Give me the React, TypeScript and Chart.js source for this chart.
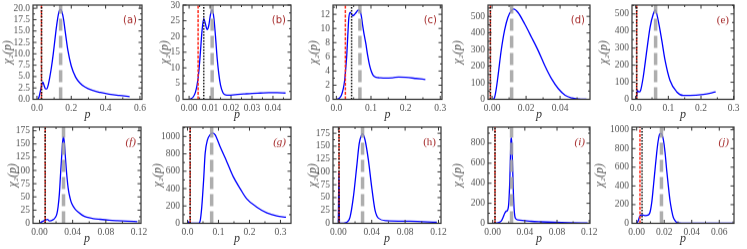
import React, { useEffect, useRef } from "react";
import { Chart, registerables } from "chart.js";
Chart.register(...registerables);

// ---------- data ----------
const pA = [0.004, 0.012, 0.02, 0.028, 0.035, 0.042, 0.05, 0.058, 0.066, 0.075, 0.085, 0.095, 0.105, 0.115, 0.125, 0.132, 0.138, 0.145, 0.155, 0.165, 0.18, 0.2, 0.225, 0.25, 0.28, 0.32, 0.37, 0.42, 0.48, 0.54];
const chiA = [0.0, 0.5, 1.8, 3.2, 3.8, 3.0, 2.3, 2.3, 3.2, 4.9, 7.2, 10.0, 13.2, 16.3, 18.7, 19.6, 19.8, 19.3, 17.6, 14.8, 10.8, 7.3, 4.9, 3.6, 2.7, 2.0, 1.5, 1.15, 0.85, 0.6];

const pB = [0.0, 0.001, 0.002, 0.003, 0.0038, 0.0046, 0.0054, 0.0062, 0.007, 0.0078, 0.0086, 0.0094, 0.0102, 0.011, 0.0118, 0.0126, 0.0134, 0.0142, 0.015, 0.016, 0.017, 0.018, 0.019, 0.022, 0.026, 0.03, 0.034, 0.038, 0.042, 0.046];
const chiB = [0.0, 0.2, 0.8, 2.2, 4.5, 8.5, 15.0, 22.0, 25.7, 24.0, 22.2, 23.5, 27.0, 28.5, 26.0, 20.0, 13.0, 8.0, 4.5, 2.3, 1.5, 1.3, 1.3, 1.5, 1.7, 1.9, 2.0, 2.1, 2.1, 2.0];

const pC = [0.002, 0.008, 0.0145, 0.02, 0.024, 0.027, 0.03, 0.033, 0.036, 0.04, 0.044, 0.048, 0.053, 0.058, 0.063, 0.068, 0.072, 0.076, 0.08, 0.085, 0.09, 0.095, 0.1, 0.106, 0.115, 0.124, 0.14, 0.163, 0.18, 0.2, 0.23, 0.257];
const chiC = [0.0, 0.15, 0.56, 1.5, 2.7, 4.3, 6.2, 9.0, 11.5, 12.3, 12.0, 11.8, 12.0, 12.3, 12.6, 12.5, 11.8, 10.4, 9.2, 7.9, 6.3, 5.0, 4.1, 3.4, 3.1, 3.05, 3.0, 3.05, 3.15, 3.1, 2.95, 2.8];

const pD = [0.0, 0.0012, 0.0024, 0.0036, 0.0053, 0.0073, 0.0093, 0.0113, 0.0127, 0.0152, 0.0192, 0.0232, 0.0271, 0.031, 0.035, 0.039, 0.043, 0.047, 0.051, 0.0555];
const chiD = [0, 5, 60, 150, 290, 414, 494, 534, 544, 524, 454, 374, 294, 204, 124, 64, 24, 8, 2, 0];

const pE = [0.0, 0.003, 0.005, 0.0075, 0.0102, 0.015, 0.023, 0.034, 0.044, 0.054, 0.06, 0.069, 0.08, 0.09, 0.105, 0.126, 0.146, 0.166, 0.207, 0.245];
const chiE = [0, 20, 52, 48, 43, 52, 130, 286, 422, 500, 523, 461, 344, 228, 111, 43, 23, 23, 29, 43];

const pF = [0.0, 0.003, 0.0069, 0.0097, 0.012, 0.016, 0.019, 0.021, 0.0225, 0.024, 0.0255, 0.027, 0.028, 0.029, 0.03, 0.0315, 0.033, 0.035, 0.037, 0.039, 0.043, 0.047, 0.052, 0.057, 0.065, 0.073, 0.084, 0.094, 0.106, 0.118];
const chiF = [0, 3, 6, 7.5, 4.5, 6.4, 11, 18, 32, 56, 95, 132, 155, 164, 152, 120, 90, 62, 47, 37, 27, 21, 15, 11.5, 9, 7.6, 6, 5, 4, 3.2];

const pG = [0.0, 0.004, 0.008, 0.035, 0.041, 0.046, 0.052, 0.057, 0.0645, 0.073, 0.08, 0.089, 0.105, 0.127, 0.148, 0.17, 0.191, 0.224, 0.256, 0.288, 0.318];
const chiG = [0, 20, 0, 0, 31, 186, 496, 806, 961, 1019, 1039, 1019, 884, 709, 535, 399, 283, 186, 120, 85, 70];

const pH = [0.0, 0.0007, 0.0014, 0.01, 0.014, 0.018, 0.022, 0.025, 0.028, 0.029, 0.032, 0.036, 0.04, 0.044, 0.048, 0.058, 0.086, 0.118];
const chiH = [0, 100, 0, 2, 12, 51, 110, 155, 172, 174, 162, 123, 70, 25, 10, 5, 4, 2];

const pI = [0.0, 0.007, 0.011, 0.013, 0.015, 0.017, 0.0185, 0.02, 0.0213, 0.0222, 0.0228, 0.0234, 0.024, 0.0248, 0.0258, 0.0268, 0.0283, 0.0316, 0.04, 0.048, 0.06, 0.0767, 0.095, 0.118];
const chiI = [0, 7, 27, 60, 100, 122, 130, 200, 430, 700, 840, 855, 760, 560, 300, 130, 50, 34, 27, 20, 15, 10, 6, 3];

const pJ = [0.0, 0.0012, 0.0024, 0.0036, 0.006, 0.0085, 0.0097, 0.011, 0.0121, 0.0133, 0.0145, 0.0155, 0.0165, 0.0177, 0.0186, 0.0194, 0.0206, 0.0218, 0.023, 0.0242, 0.0254, 0.0266, 0.0278, 0.029, 0.031, 0.034, 0.05, 0.07];
const chiJ = [0, 29, 83, 90, 83, 90, 119, 230, 388, 570, 748, 870, 946, 964, 940, 892, 760, 568, 400, 245, 140, 65, 30, 11, 3, 0, 0, 0];

const panelLabels = ["(a)", "(b)", "(c)", "(d)", "(e)", "(f)", "(g)", "(h)", "(i)", "(j)"];
const seriesP = [pA, pB, pC, pD, pE, pF, pG, pH, pI, pJ];
const seriesChi = [chiA, chiB, chiC, chiD, chiE, chiF, chiG, chiH, chiI, chiJ];

const redLines = [0.026, 0.0043, 0.026, -0.001, 0.003, 0.0069, 0.0086, 0.0008, 0.0029, 0.0024];
const blackLines = [0.027, 0.007, 0.044, -0.001, 0.003, 0.0069, 0.0086, 0.0008, 0.0029, 0.0039];
const grayLines = [0.138, 0.011, 0.068, 0.0115, 0.061, 0.029, 0.078, 0.029, 0.0235, 0.018];

const xLimits = [[-0.023, 0.612], [-0.0029, 0.0486], [-0.0097, 0.305], [-0.0024, 0.0576], [-0.0113, 0.301], [-0.0078, 0.1224], [-0.0145, 0.334], [-0.0064, 0.123], [-0.0058, 0.121], [-0.0034, 0.0707]];
const yLimits = [[0, 20.7], [0, 30], [0, 13.3], [0, 568], [0, 552], [0, 182], [0, 1108], [0, 187], [0, 961], [0, 1029]];

const xTickVals = [
  [0, 0.2, 0.4, 0.6], [0, 0.01, 0.02, 0.03, 0.04], [0, 0.1, 0.2, 0.3], [0, 0.02, 0.04], [0, 0.1, 0.2, 0.3],
  [0, 0.04, 0.08, 0.12], [0, 0.1, 0.2, 0.3], [0, 0.04, 0.08, 0.12], [0, 0.04, 0.08, 0.12], [0, 0.02, 0.04, 0.06],
];
const yTickVals = [
  [0, 2.5, 5, 7.5, 10, 12.5, 15, 17.5, 20], [0, 5, 10, 15, 20, 25, 30], [0, 2, 4, 6, 8, 10, 12], [0, 100, 200, 300, 400, 500], [0, 100, 200, 300, 400, 500],
  [0, 25, 50, 75, 100, 125, 150, 175], [0, 200, 400, 600, 800, 1000], [0, 25, 50, 75, 100, 125, 150, 175], [0, 200, 400, 600, 800], [0, 200, 400, 600, 800, 1000],
];
const xDecimals = [1, 2, 1, 2, 1, 2, 1, 2, 2, 2];
const yDecimals = [1, 0, 0, 0, 0, 0, 0, 0, 0, 0];

// ---------- layout (plot rectangles in page pixels) ----------
const plotRects = [
  [33, 5, 142, 99], [183, 5, 291, 99], [333, 5, 442, 99], [488, 5, 590, 99], [632, 5, 734, 99],
  [33, 127, 141, 223], [183, 127, 291, 223], [333, 127, 441, 223], [488, 127, 590, 223], [632, 127, 734, 223],
];
const yAxisWidths = [32, 25, 26, 37, 35, 27, 32, 27, 37, 39];
const labelFonts = [
  "10px 'DejaVu Sans'", "10px 'DejaVu Sans'", "10px 'DejaVu Sans'", "10px 'DejaVu Sans'", "11px 'Liberation Serif'",
  "italic 11px 'Liberation Serif'", "italic 11px 'Liberation Serif'", "11px 'Liberation Serif'", "italic 11px 'Liberation Serif'", "italic 11px 'Liberation Serif'",
];
const PAD_T = 5;
const PAD_R = 14;
const X_AXIS_H = 22.5;
const SERIF = "'Liberation Serif', 'DejaVu Serif', serif";

function makeDecor(xt: number[], yt: number[], label: string, labelFont: string) {
  return {
    id: "decor",
    afterDatasetsDraw(chart: any) {
      const { ctx, chartArea } = chart;
      const { left, top, right, bottom } = chartArea;
      const xs = chart.scales.x;
      const ys = chart.scales.y;
      ctx.save();
      ctx.strokeStyle = "#333";
      ctx.lineWidth = 1;
      const seg = (x1: number, y1: number, x2: number, y2: number) => {
        ctx.beginPath();
        ctx.moveTo(x1, y1);
        ctx.lineTo(x2, y2);
        ctx.stroke();
      };
      const all = (t: number[], min: number, max: number) => {
        const s = t[1] - t[0];
        const out: [number, boolean][] = [];
        for (let k = -3; k < t.length + 3; k++) {
          const vMaj = t[0] + k * s;
          const vMin = t[0] + (k + 0.5) * s;
          if (vMaj >= min - 1e-12 && vMaj <= max + 1e-12) out.push([vMaj, true]);
          if (vMin >= min && vMin <= max) out.push([vMin, false]);
        }
        return out;
      };
      for (const [v, major] of all(xt, xs.min, xs.max)) {
        const px = xs.getPixelForValue(v);
        const len = major ? 3.5 : 2;
        seg(px, bottom, px, bottom - len);
        seg(px, top, px, top + len);
      }
      for (const [v, major] of all(yt, ys.min, ys.max)) {
        const py = ys.getPixelForValue(v);
        const len = major ? 3.5 : 2;
        seg(left, py, left + len, py);
        seg(right, py, right - len, py);
      }
      ctx.lineWidth = 1.2;
      ctx.strokeRect(left, top, right - left, bottom - top);
      ctx.fillStyle = "#a52a2a";
      ctx.font = labelFont;
      ctx.textAlign = "right";
      ctx.textBaseline = "middle";
      ctx.fillText(label, right - 5, top + 15);
      ctx.restore();
    },
  };
}

function Panel({ i }: { i: number }) {
  const ref = useRef<HTMLCanvasElement>(null);
  const [L, T, R, B] = plotRects[i];
  const yw = yAxisWidths[i];
  const w = R - L + yw + PAD_R;
  const h = B - T + PAD_T + X_AXIS_H;
  useEffect(() => {
    const [xmin, xmax] = xLimits[i];
    const [ymin, ymax] = yLimits[i];
    const curve = seriesP[i].map((p, k) => ({ x: p, y: seriesChi[i][k] }));
    const vline = (v: number) => [{ x: v, y: ymin }, { x: v, y: ymax }];
    const chart = new Chart(ref.current as HTMLCanvasElement, {
      type: "scatter",
      data: {
        datasets: [
          { data: vline(blackLines[i]), showLine: true, borderColor: "#111", borderWidth: 1.5, borderDash: [1.5, 1.5], pointRadius: 0 },
          { data: vline(redLines[i]), showLine: true, borderColor: "#ff2a1a", borderWidth: 1.5, borderDash: [3, 1.5], pointRadius: 0 },
          { data: vline(grayLines[i]), showLine: true, borderColor: "rgba(160,160,160,0.85)", borderWidth: 3.5, borderDash: [12, 5], pointRadius: 0 },
          { data: curve, showLine: true, borderColor: "#0000ff", borderWidth: 1.3, pointRadius: 0, cubicInterpolationMode: "monotone" },
        ] as any,
      },
      options: {
        animation: false,
        responsive: false,
        events: [],
        layout: { padding: { top: PAD_T, right: PAD_R, left: 0, bottom: 0 } },
        plugins: { legend: { display: false }, tooltip: { enabled: false } },
        scales: {
          x: {
            type: "linear",
            min: xmin,
            max: xmax,
            afterBuildTicks: (s: any) => { s.ticks = xTickVals[i].map((v) => ({ value: v })); },
            afterFit: (s: any) => { s.height = X_AXIS_H; s.paddingLeft = 0; s.paddingRight = 0; },
            grid: { display: false, drawTicks: false },
            border: { display: false },
            ticks: {
              color: "#555",
              font: { family: SERIF, size: 9.5 },
              padding: 3,
              maxRotation: 0,
              autoSkip: false,
              callback: (v: any) => Number(v).toFixed(xDecimals[i]),
            },
            title: { display: true, text: "p", color: "#333", font: { family: SERIF, size: 12, style: "italic" }, padding: 0 },
          },
          y: {
            type: "linear",
            min: ymin,
            max: ymax,
            afterBuildTicks: (s: any) => { s.ticks = yTickVals[i].map((v) => ({ value: v })); },
            afterFit: (s: any) => { s.width = yw; s.paddingTop = 0; s.paddingBottom = 0; },
            grid: { display: false, drawTicks: false },
            border: { display: false },
            ticks: {
              color: "#555",
              font: { family: SERIF, size: 9.5 },
              padding: 3,
              autoSkip: false,
              callback: (v: any) => Number(v).toFixed(yDecimals[i]),
            },
            title: { display: true, text: "χ₂(p)", color: "#555", font: { family: SERIF, size: 12, style: "italic", weight: "normal" }, padding: 0 },
          },
        },
      } as any,
      plugins: [makeDecor(xTickVals[i], yTickVals[i], panelLabels[i], labelFonts[i])],
    });
    return () => chart.destroy();
  }, [i]);
  return (
    <canvas
      ref={ref}
      width={w}
      height={h}
      style={{ position: "absolute", left: L - yw, top: T - PAD_T, width: w, height: h }}
    />
  );
}

export default function App() {
  return (
    <div style={{ position: "absolute", left: 0, top: 0, width: 747, height: 249, background: "#fff", overflow: "hidden" }}>
      {panelLabels.map((_, i) => (
        <Panel key={i} i={i} />
      ))}
    </div>
  );
}
